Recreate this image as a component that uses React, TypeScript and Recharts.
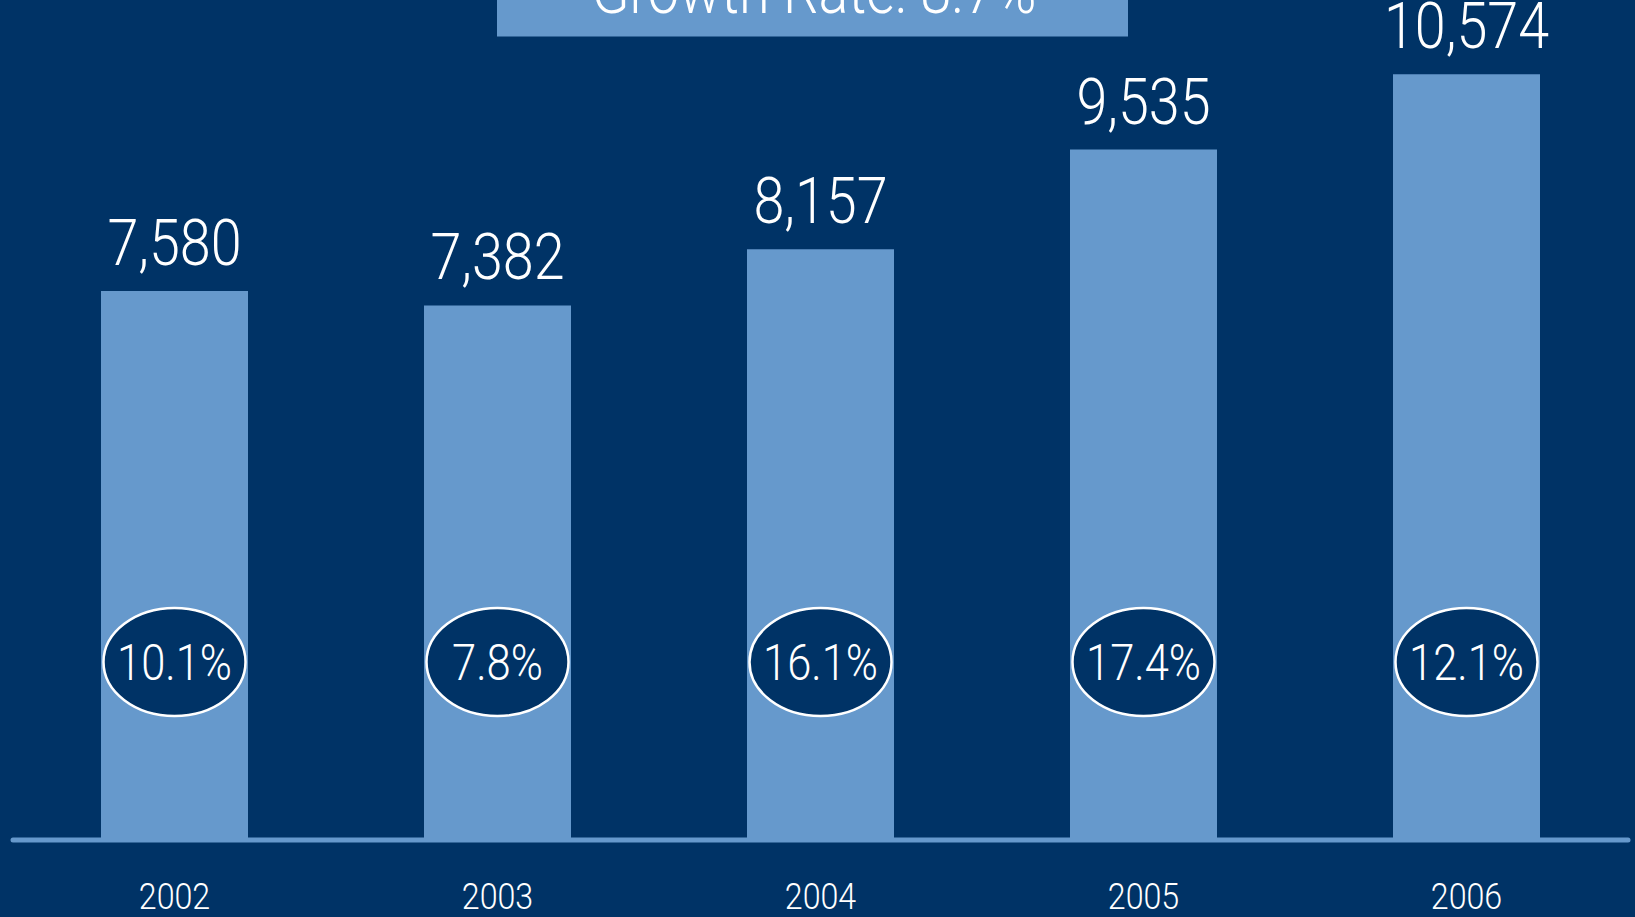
import React from "react";
import { BarChart, Bar, XAxis, YAxis, LabelList } from "recharts";

const years = ["2002", "2003", "2004", "2005", "2006"];
const revenue = [7580, 7382, 8157, 9535, 10574];
const growth = ["10.1%", "7.8%", "16.1%", "17.4%", "12.1%"];
const title = "Growth Rate: 8.7%";

const NAVY = "#003366";
const LIGHT = "#6699CC";
const FONT = 'Roboto, "Open Sans", sans-serif';
const SX = 0.87; // the original type is a condensed face

const data = years.map((year, i) => ({ year, revenue: revenue[i], growth: growth[i] }));

// narrow white text centred at (x, y baseline)
const Narrow = ({ x, y, size, children }: any) => (
  <text
    transform={`translate(${x} ${y}) scale(${SX} 1)`}
    textAnchor="middle"
    fill="#fff"
    fontSize={size}
    fontWeight={300}
    fontFamily={FONT}
  >
    {children}
  </text>
);

// value above each bar
const ValueLabel = (props: any) => {
  const vb = props.viewBox || props;
  const { x, y, width } = vb;
  return (
    <Narrow x={x + width / 2} y={y - 26} size={64}>
      {Number(props.value).toLocaleString("en-US")}
    </Narrow>
  );
};

// growth rate in an ellipse near the bottom of each bar
const GrowthBadge = (props: any) => {
  const vb = props.viewBox || props;
  const { x, y, width, height } = vb;
  const cx = x + width / 2;
  const cy = y + height - 178;
  return (
    <g>
      <ellipse cx={cx} cy={cy} rx={71} ry={54} fill={NAVY} stroke="#fff" strokeWidth={2.5} />
      <Narrow x={cx} y={cy + 18} size={50}>
        {props.value}
      </Narrow>
    </g>
  );
};

const YearTick = (props: any) => {
  const { x, y, payload } = props;
  return (
    <Narrow x={x} y={y + 69} size={37}>
      {payload.value}
    </Narrow>
  );
};

export default function App() {
  return (
    <div
      style={{
        position: "absolute",
        top: 0,
        left: 0,
        width: 1635,
        height: 917,
        background: NAVY,
        overflow: "hidden",
      }}
    >
      <BarChart
        width={1635}
        height={917}
        data={data}
        margin={{ top: 0, right: 7, left: 13, bottom: 0 }}
      >
        <YAxis hide domain={[0, 11600]} />
        <XAxis
          dataKey="year"
          height={77}
          tickLine={false}
          tickSize={0}
          tickMargin={0}
          axisLine={{ stroke: LIGHT, strokeWidth: 5, strokeLinecap: "round" }}
          tick={<YearTick />}
          interval={0}
        />
        <Bar dataKey="revenue" fill={LIGHT} barSize={147} isAnimationActive={false}>
          <LabelList dataKey="revenue" content={<ValueLabel />} />
          <LabelList dataKey="growth" content={<GrowthBadge />} />
        </Bar>
      </BarChart>
      <svg
        width={1635}
        height={917}
        style={{ position: "absolute", top: 0, left: 0, pointerEvents: "none" }}
      >
        <rect x={497} y={-10} width={631} height={46.5} fill={LIGHT} />
        <Narrow x={814} y={13} size={64}>
          {title}
        </Narrow>
      </svg>
    </div>
  );
}
